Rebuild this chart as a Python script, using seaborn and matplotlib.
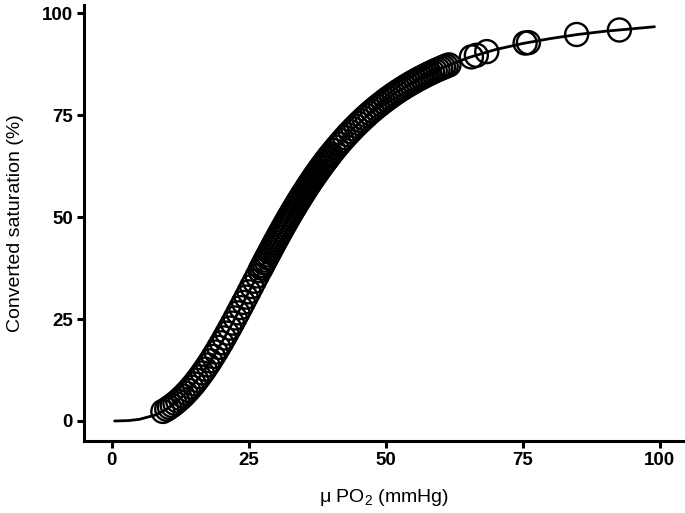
import matplotlib
matplotlib.use("Agg")
import matplotlib.pyplot as plt
import seaborn as sns

# fitted dissociation curve
curve_po2 = [0.5, 3, 5, 8, 10, 12, 14, 16, 18, 20, 22, 24, 26, 28, 30, 32, 35,
             38, 41, 44, 48, 52, 56, 60, 65, 70, 75, 80, 85, 90, 95, 99]
curve_sat = [0.0, 0.1, 0.4, 1.5, 2.9, 4.9, 7.5, 10.8, 14.7, 19.2, 24.0, 29.1,
             34.3, 39.4, 44.5, 49.3, 56.0, 61.9, 67.2, 71.7, 76.6, 80.7, 83.9,
             86.5, 89.1, 91.1, 92.6, 93.8, 94.8, 95.6, 96.2, 96.7]

# measured samples (circles)
po2_low = [9.3, 10.0, 10.5, 11.0, 11.5, 12.0, 12.5, 13.0, 13.5, 14.0, 14.5,
           15.0, 15.5, 16.0, 16.5, 17.0, 17.5, 18.0, 18.5, 19.0, 19.5, 20.0,
           20.5, 21.0, 21.5, 22.0, 22.5, 23.0, 23.5, 24.0, 24.5, 25.0, 25.5,
           26.0, 26.5]
sat_low = [2.35, 2.88, 3.34, 3.80, 4.34, 4.88, 5.50, 6.12, 6.83, 7.53, 8.32,
           9.10, 9.97, 10.84, 11.78, 12.72, 13.74, 14.75, 15.83, 16.91, 18.05,
           19.18, 20.37, 21.56, 22.79, 24.01, 25.27, 26.53, 27.81, 29.09,
           30.39, 31.68, 32.98, 34.28, 35.58]

po2_mid = [27.00, 27.25, 27.50, 27.75, 28.00, 28.25, 28.50, 28.75, 29.00,
           29.25, 29.50, 29.75, 30.00, 30.25, 30.50, 30.75, 31.00, 31.25,
           31.50, 31.75, 32.00, 32.25, 32.50, 32.75, 33.00, 33.25, 33.50,
           33.75, 34.00, 34.25, 34.50, 34.75, 35.00, 35.25, 35.50, 35.75,
           36.00, 36.25, 36.50, 36.75, 37.00, 37.25, 37.50, 37.75, 38.00,
           38.25, 38.50, 38.75, 39.00, 39.25, 39.50, 39.75]
sat_mid = [36.87, 37.52, 38.16, 38.81, 39.45, 40.09, 40.72, 41.36, 41.99,
           42.61, 43.24, 43.86, 44.48, 45.09, 45.70, 46.31, 46.92, 47.52,
           48.11, 48.71, 49.30, 49.88, 50.46, 51.03, 51.61, 52.17, 52.73,
           53.28, 53.84, 54.38, 54.92, 55.45, 55.99, 56.51, 57.03, 57.55,
           58.07, 58.57, 59.06, 59.56, 60.05, 60.53, 61.00, 61.48, 61.95,
           62.41, 62.86, 63.32, 63.77, 64.21, 64.64, 65.08]

po2_high = [40.0, 40.5, 41.0, 41.5, 42.0, 42.5, 43.0, 43.5, 44.0, 44.5, 45.0,
            45.5, 46.0, 46.5, 47.0, 47.5, 48.0, 48.5, 49.0, 49.5, 50.0, 50.5,
            51.0, 51.5, 52.0, 52.5, 53.0, 53.5, 54.0, 54.5, 55.0, 55.5, 56.0,
            56.5, 57.0, 57.5, 58.0, 58.5, 59.0, 59.5, 60.0, 60.5, 61.0, 61.5,
            65.6, 66.5, 68.4, 75.4, 76.0, 84.8, 92.6]
sat_high = [65.51, 66.34, 67.16, 67.95, 68.74, 69.49, 70.23, 70.94, 71.65,
            72.33, 73.00, 73.64, 74.28, 74.89, 75.50, 76.08, 76.65, 77.19,
            77.73, 78.25, 78.77, 79.26, 79.74, 80.21, 80.67, 81.11, 81.54,
            81.96, 82.37, 82.77, 83.16, 83.53, 83.90, 84.25, 84.60, 84.94,
            85.27, 85.59, 85.91, 86.21, 86.51, 86.79, 87.07, 87.34,
            89.3, 89.7, 90.6, 92.7, 92.8, 94.8, 95.9]

po2 = po2_low + po2_mid + po2_high
sat = sat_low + sat_mid + sat_high

sns.set_style("ticks")
plt.rcParams["font.family"] = ["Liberation Sans", "DejaVu Sans"]
plt.rcParams["mathtext.fontset"] = "custom"
plt.rcParams["mathtext.rm"] = "Liberation Sans"
plt.rcParams["mathtext.it"] = "Liberation Sans:italic"
plt.rcParams["text.color"] = "black"
plt.rcParams["axes.labelcolor"] = "black"
plt.rcParams["xtick.color"] = "black"
plt.rcParams["ytick.color"] = "black"

fig = plt.figure(figsize=(6.85, 5.13), dpi=100)
ax = fig.add_axes([0.1226, 0.1404, 0.8744, 0.8496])

sns.scatterplot(x=po2, y=sat, s=275, marker="o", color="black", linewidth=1.7, ax=ax)
ax.collections[-1].set_facecolor("none")
ax.collections[-1].set_edgecolor("black")
sns.lineplot(x=curve_po2, y=curve_sat, color="black", linewidth=2.0, ax=ax)

ax.set_xlim(-5.1, 104.2)
ax.set_ylim(-4.9, 102)
ax.set_xticks([0, 25, 50, 75, 100])
ax.set_yticks([0, 25, 50, 75, 100])
for lab in ax.get_xticklabels() + ax.get_yticklabels():
    lab.set_fontweight("bold")
    lab.set_fontsize(13.5)
ax.tick_params(length=5, width=2.2, color="black", labelcolor="black", pad=3)
sns.despine(ax=ax)
for s in ["left", "bottom"]:
    ax.spines[s].set_linewidth(2.2)
    ax.spines[s].set_color("black")

ax.set_xlabel("μ PO$_2$ (mmHg)", fontsize=14, labelpad=13, color="black")
ax.set_ylabel("Converted saturation (%)", fontsize=14, labelpad=13, color="black")

fig.savefig("out.png", dpi=100)
